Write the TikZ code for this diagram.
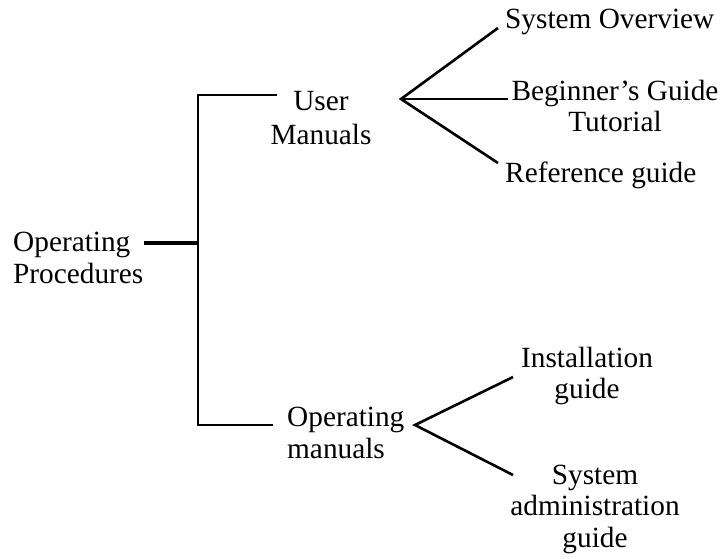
\documentclass[tikz,border=0pt]{standalone}
\usepackage{fontspec}
\setmainfont{Liberation Serif}
\begin{document}
\begin{tikzpicture}[x=1pt,y=-1pt,
  lbl/.style={inner sep=0pt, font=\fontsize{29.3}{31.5}\selectfont},
  ln/.style={line width=2.6pt},
  thk/.style={line width=4.2pt}]
\useasboundingbox (0,0) rectangle (725,558);
% nodes
\node[lbl,align=left,anchor=west] (root) at (13,258) {Operating\\Procedures};
\node[lbl,align=center,font=\fontsize{29.3}{34}\selectfont] (um) at (321,118) {User\\Manuals};
\node[lbl,align=left,anchor=west] (om) at (287,433) {Operating\\manuals};
\node[lbl,anchor=west] (so) at (505,22) {System Overview};
\node[lbl,align=center] (bg) at (615,106) {Beginner’s Guide\\Tutorial};
\node[lbl,anchor=west] (rg) at (505,175) {Reference guide};
\node[lbl,align=center] (ig) at (587,376) {Installation\\guide};
\node[lbl,align=center] (sa) at (595,509) {System\\administration\\guide};
% junction coordinates
\coordinate (j) at (198,243);
\coordinate (jt) at (198,95);
\coordinate (jb) at (198,425);
\coordinate (umin) at (277,95);
\coordinate (omin) at (273,425);
\coordinate (uf) at (401,99);
\coordinate (soend) at (498,28);
\coordinate (bgend) at (508,99);
\coordinate (rgend) at (498,163);
\coordinate (of) at (415,425);
\coordinate (igend) at (513,377);
\coordinate (saend) at (513,475);
% connectors
\draw[thk] (root.east |- j) -- (j);
\draw[ln] (umin) -- (jt) -- (jb) -- (omin);
\draw[ln] (soend) -- (uf) -- (rgend);
\draw[ln] (uf) -- (bgend);
\draw[ln] (igend) -- (of) -- (saend);
\end{tikzpicture}
\end{document}
